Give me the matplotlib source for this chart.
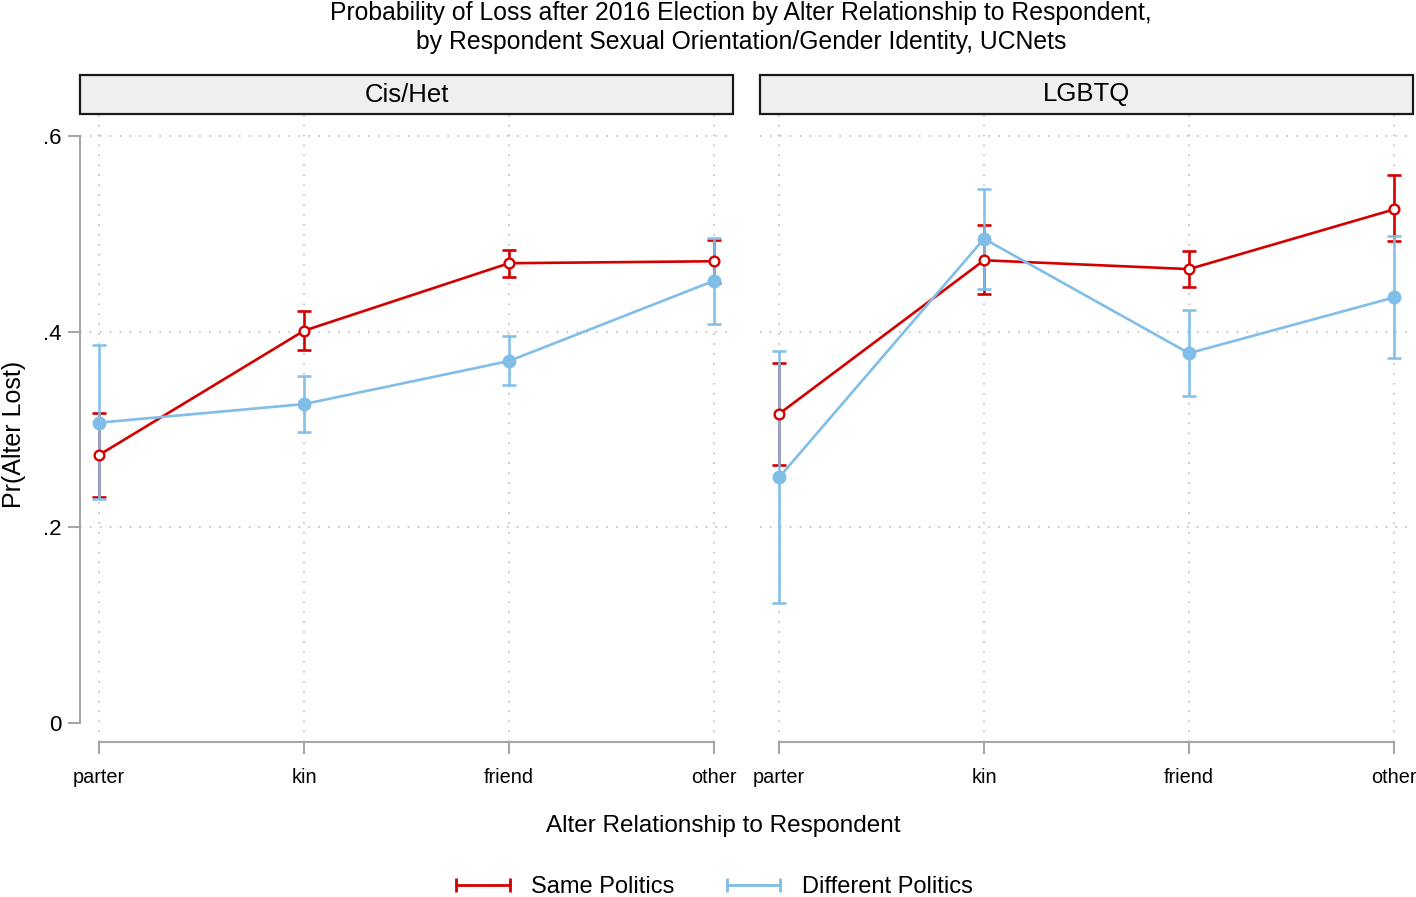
import numpy as np
import matplotlib
matplotlib.use("Agg")
import matplotlib.pyplot as plt
from matplotlib.patches import Rectangle
from matplotlib.lines import Line2D

plt.rcParams['font.family'] = ['Liberation Sans', 'DejaVu Sans']

# categories on the x axis (spelling kept as in the source chart)
categories = ['parter', 'kin', 'friend', 'other']
panels = ['Cis/Het', 'LGBTQ']

# Cis/Het panel
cis_same = [0.274, 0.401, 0.470, 0.472]
cis_same_lo = [0.231, 0.381, 0.456, 0.450]
cis_same_hi = [0.317, 0.421, 0.483, 0.494]
cis_diff = [0.307, 0.326, 0.370, 0.452]
cis_diff_lo = [0.229, 0.297, 0.346, 0.408]
cis_diff_hi = [0.386, 0.355, 0.396, 0.496]

# LGBTQ panel
lgbtq_same = [0.316, 0.473, 0.464, 0.525]
lgbtq_same_lo = [0.264, 0.439, 0.446, 0.493]
lgbtq_same_hi = [0.368, 0.509, 0.482, 0.560]
lgbtq_diff = [0.251, 0.495, 0.378, 0.435]
lgbtq_diff_lo = [0.123, 0.444, 0.334, 0.373]
lgbtq_diff_hi = [0.380, 0.546, 0.422, 0.498]

yticks = [0, 0.2, 0.4, 0.6]
ytick_labels = ['0', '.2', '.4', '.6']

RED = '#d40000'
BLUE = '#80bee8'
AXGRAY = '#a6a6a6'
W, H = 1416, 897

fig = plt.figure(figsize=(W / 100, H / 100), dpi=100)

def fx(px):
    return px / W

def fy(py):
    return 1 - py / H

panel_data = [
    (cis_same, cis_same_lo, cis_same_hi, cis_diff, cis_diff_lo, cis_diff_hi),
    (lgbtq_same, lgbtq_same_lo, lgbtq_same_hi, lgbtq_diff, lgbtq_diff_lo, lgbtq_diff_hi),
]
lefts = [80, 760]
width_px = 653
top_px, bottom_px = 115, 742

x = np.arange(len(categories))
for i, (name, d) in enumerate(zip(panels, panel_data)):
    same, same_lo, same_hi, diff, diff_lo, diff_hi = [np.array(v) for v in d]
    ax = fig.add_axes([fx(lefts[i]), fy(bottom_px), width_px / W, (bottom_px - top_px) / H])

    # error bars
    ax.errorbar(x, same, yerr=[same - same_lo, same_hi - same], fmt='none',
                ecolor=RED, elinewidth=1.9, capsize=5, capthick=1.9, zorder=3)
    ax.errorbar(x, diff, yerr=[diff - diff_lo, diff_hi - diff], fmt='none',
                ecolor=BLUE, elinewidth=1.9, capsize=5, capthick=1.9, zorder=3, alpha=0.95)
    # connected points
    ax.plot(x, same, color=RED, lw=1.9, marker='o', ms=7, mfc='white',
            mec=RED, mew=1.7, zorder=4)
    ax.plot(x, diff, color=BLUE, lw=1.9, marker='o', ms=9, mfc=BLUE,
            mec=BLUE, zorder=5)

    ax.set_xlim(-0.093, 3.093)
    ax.set_ylim(-0.0194, 0.6215)
    ax.set_xticks(x)
    ax.set_xticklabels(categories, fontsize=14.3)
    ax.set_yticks(yticks)
    ax.grid(True, color='#b4b4b4', linestyle=(0, (1, 5.5)), lw=1.1)
    ax.get_ygridlines()[0].set_visible(False)
    ax.set_axisbelow(True)

    for s in ['top', 'right']:
        ax.spines[s].set_visible(False)
    ax.spines['bottom'].set_bounds(0, 3)
    ax.spines['bottom'].set_color(AXGRAY)
    ax.spines['bottom'].set_linewidth(1.5)
    ax.tick_params(axis='x', length=8.6, width=1.5, color=AXGRAY, pad=10)
    if i == 0:
        ax.spines['left'].set_bounds(0, 0.6)
        ax.spines['left'].set_color(AXGRAY)
        ax.spines['left'].set_linewidth(1.5)
        ax.set_yticklabels(ytick_labels, fontsize=16)
        ax.tick_params(axis='y', length=8.6, width=1.5, color=AXGRAY, pad=5)
    else:
        ax.spines['left'].set_visible(False)
        ax.tick_params(axis='y', length=0, labelleft=False)

    # panel strip
    fig.add_artist(Rectangle((fx(lefts[i]), fy(114)), width_px / W, 39 / H,
                             transform=fig.transFigure, facecolor='#efefef',
                             edgecolor='#1a1a1a', lw=1.6))
    fig.text(fx(lefts[i] + width_px / 2), fy(94.5), name, ha='center', va='center',
             fontsize=18.5)

fig.text(fx(741), fy(13),
         'Probability of Loss after 2016 Election by Alter Relationship to Respondent,',
         ha='center', va='center', fontsize=17.8)
fig.text(fx(741), fy(42),
         'by Respondent Sexual Orientation/Gender Identity, UCNets',
         ha='center', va='center', fontsize=17.8)
fig.text(fx(14), fy(434), 'Pr(Alter Lost)', rotation=90, ha='center', va='center',
         fontsize=18)
fig.text(fx(723), fy(826), 'Alter Relationship to Respondent', ha='center',
         va='center', fontsize=17.5)

handles = [Line2D([0], [0], color=RED, lw=2, marker='|', ms=10, mew=2),
           Line2D([0], [0], color=BLUE, lw=2, marker='|', ms=10, mew=2)]
fig.legend(handles, ['Same Politics', 'Different Politics'], loc='center',
           bbox_to_anchor=(fx(711), fy(887)), ncol=2, frameon=False, fontsize=17,
           numpoints=2, handlelength=2.85, handletextpad=0.6, columnspacing=1.95)

fig.savefig('out.png', dpi=100)
